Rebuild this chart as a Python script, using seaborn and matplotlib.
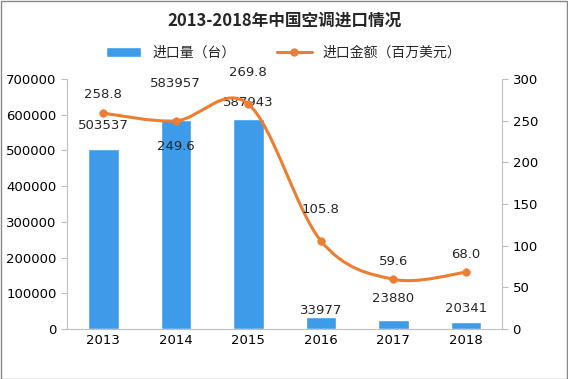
import numpy as np
import pandas as pd
import matplotlib
matplotlib.use('Agg')
import matplotlib.pyplot as plt
from matplotlib.path import Path
from matplotlib.patches import PathPatch
import seaborn as sns

years = ['2013', '2014', '2015', '2016', '2017', '2018']
volume = [503537, 583957, 587943, 33977, 23880, 20341]  # 进口量（台）
amount = [258.8, 249.6, 269.8, 105.8, 59.6, 68.0]  # 进口金额（百万美元）

df = pd.DataFrame({'year': years, 'volume': volume, 'amount': amount})

sns.set_style('white')
plt.rcParams['font.family'] = ['Noto Sans CJK SC', 'DejaVu Sans']

bar_color = '#3d9be9'
line_color = '#ed7d31'
grey = '#bfbfbf'

fig = plt.figure(figsize=(5.68, 3.79), dpi=100)
ax = fig.add_axes([0.118, 0.132, 0.766, 0.66])

sns.barplot(data=df, x='year', y='volume', color=bar_color, width=0.42,
            saturation=1, ax=ax, label='进口量（台）')
ax.set_ylim(0, 700000)
ax.set_xlim(-0.5, 5.5)
ax.set_yticks(range(0, 700001, 100000))
ax.set_xticks(range(6))
ax.set_xticklabels(years)
ax.set(xlabel='', ylabel='')

ax2 = ax.twinx()
ax2.set_ylim(0, 300)
ax2.set_yticks(range(0, 301, 50))

# smooth curve (catmull-rom as bezier path)
x = np.arange(len(amount), dtype=float)
y = np.array(amount)
verts = [(x[0], y[0])]
codes = [Path.MOVETO]
t = 0.5
for i in range(len(x) - 1):
    p0 = (x[i - 1], y[i - 1]) if i > 0 else (x[i], y[i])
    p1 = (x[i], y[i])
    p2 = (x[i + 1], y[i + 1])
    p3 = (x[i + 2], y[i + 2]) if i + 2 < len(x) else p2
    c1 = (p1[0] + (p2[0] - p0[0]) * t / 3, p1[1] + (p2[1] - p0[1]) * t / 3)
    c2 = (p2[0] - (p3[0] - p1[0]) * t / 3, p2[1] - (p3[1] - p1[1]) * t / 3)
    verts += [c1, c2, p2]
    codes += [Path.CURVE4] * 3
ax2.add_patch(PathPatch(Path(verts, codes), fill=False, edgecolor=line_color, lw=2.2))
sns.scatterplot(x=x, y=y, color=line_color, s=30, edgecolor=line_color,
                ax=ax2, zorder=5)
ax2.plot([], [], color=line_color, lw=2.2, marker='o', ms=5, label='进口金额（百万美元）')

# labels
bar_offsets = [12, 22, 7, 0, 11, 5]
for i, v in enumerate(volume):
    ax.annotate(str(v), (i, v), xytext=(0, bar_offsets[i]), textcoords='offset points',
                ha='center', va='bottom', fontsize=9.5, family='DejaVu Sans')
amt_offsets = [9, -23, 18, 18, 8, 8]
for i, v in enumerate(amount):
    ax2.annotate(f'{v:.1f}', (i, v), xytext=(0, amt_offsets[i]), textcoords='offset points',
                 ha='center', va='bottom', fontsize=9.5, family='DejaVu Sans')

for a in (ax, ax2):
    for s in a.spines.values():
        s.set_visible(False)
    a.tick_params(labelsize=9.5, colors='black', length=0)
ax.spines['left'].set_visible(True)
ax.spines['left'].set_color(grey)
ax.spines['bottom'].set_visible(True)
ax.spines['bottom'].set_color(grey)
ax2.spines['right'].set_visible(True)
ax2.spines['right'].set_color(grey)
ax.tick_params(axis='y', length=4, color=grey, direction='out')
ax2.tick_params(axis='y', length=4, color=grey, direction='out')
ax.set_xticks(np.arange(-0.5, 6, 1), minor=True)
ax.tick_params(axis='x', which='minor', length=4, color=grey)
for lab in ax.get_yticklabels() + ax2.get_yticklabels() + ax.get_xticklabels():
    lab.set_family('DejaVu Sans')

fig.text(0.5, 0.945, '2013-2018年中国空调进口情况', ha='center', va='center',
         fontsize=12, fontweight='bold')
h1, l1 = ax.get_legend_handles_labels()
h2, l2 = ax2.get_legend_handles_labels()
leg = fig.legend(h1 + h2, l1 + l2, loc='center', bbox_to_anchor=(0.5, 0.86), ncol=2,
                 frameon=False, fontsize=10, handlelength=2.5, columnspacing=3)
if ax.get_legend():
    ax.get_legend().remove()

fig.patches.append(plt.Rectangle((0.001, 0.001), 0.997, 0.997, transform=fig.transFigure,
                                 fill=False, edgecolor='#888888', lw=1))
fig.savefig('out.png', dpi=100, facecolor='white')
